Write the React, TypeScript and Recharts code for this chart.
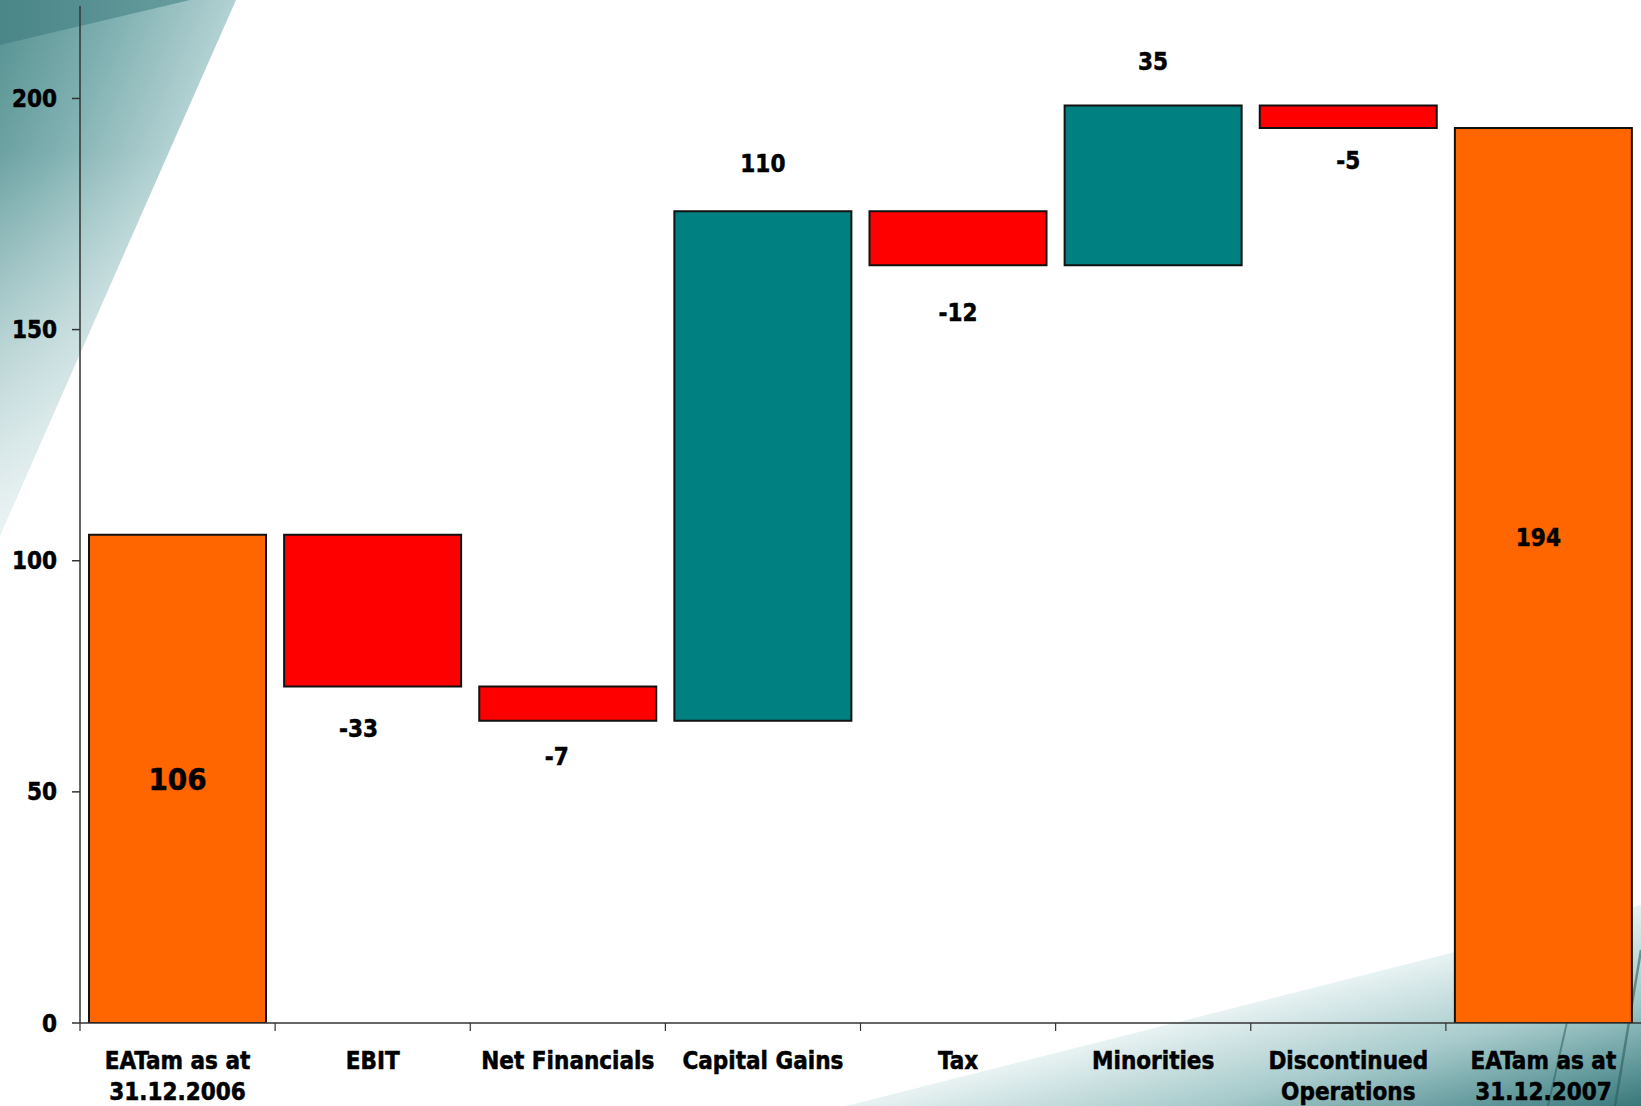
import React from 'react';
import { BarChart, Bar, XAxis, YAxis, Cell, LabelList } from 'recharts';

// ---------- data ----------
const categories = [
  'EATam as at\n31.12.2006',
  'EBIT',
  'Net Financials',
  'Capital Gains',
  'Tax',
  'Minorities',
  'Discontinued\nOperations',
  'EATam as at\n31.12.2007',
];
const changes = [105.6, -32.8, -7.4, 110.2, -11.7, 34.6, -4.9, 193.6];
const barTypes = ['total', 'delta', 'delta', 'delta', 'delta', 'delta', 'delta', 'total'];
const yTicks = [0, 50, 100, 150, 200];

// ---------- styles ----------
const FONT = "'DejaVu Sans Condensed', 'DejaVu Sans', sans-serif";
const COLORS = { total: '#FF6600', up: '#008080', down: '#FF0000' };
const labelLayout = [
  { mode: 'inside', frac: 0.5, size: 31, dx: 0 },
  { mode: 'below', off: 42, size: 24, dx: -14 },
  { mode: 'below', off: 36, size: 24, dx: -11 },
  { mode: 'above', off: 48, size: 24, dx: 0 },
  { mode: 'below', off: 47, size: 24, dx: 0 },
  { mode: 'above', off: 44, size: 24, dx: 0 },
  { mode: 'below', off: 32, size: 24, dx: 0 },
  { mode: 'inside', frac: 0.457, size: 24, dx: -5 },
];

const data = (() => {
  let running = 0;
  return categories.map((name, i) => {
    const v = changes[i];
    let base = 0;
    let amount = 0;
    let color = COLORS.total;
    if (barTypes[i] === 'total') {
      base = 0;
      amount = v;
      running = v;
    } else if (v >= 0) {
      base = running;
      amount = v;
      running += v;
      color = COLORS.up;
    } else {
      running += v;
      base = running;
      amount = -v;
      color = COLORS.down;
    }
    return { name, base, amount, color, label: String(Math.round(v)) };
  });
})();

const renderLabel = (props: any) => {
  const vb = props.viewBox || props;
  const x = Number(vb.x ?? props.x);
  const y = Number(vb.y ?? props.y);
  const w = Number(vb.width ?? props.width);
  const h = Number(vb.height ?? props.height);
  const i = props.index as number;
  const lay: any = labelLayout[i];
  const top = Math.min(y, y + h);
  const bottom = Math.max(y, y + h);
  let cy = top + (bottom - top) / 2;
  if (lay.mode === 'inside') cy = top + (bottom - top) * lay.frac;
  if (lay.mode === 'below') cy = bottom + lay.off;
  if (lay.mode === 'above') cy = top - lay.off;
  return (
    <text
      x={x + w / 2 + lay.dx}
      y={cy + lay.size * 0.36}
      textAnchor="middle"
      fontFamily={FONT}
      fontWeight="bold"
      fontSize={lay.size}
      fill="#000"
      stroke="#000"
      strokeWidth={0.5}
    >
      {data[i].label}
    </text>
  );
};

const CategoryTick = (props: any) => {
  const { x, y, payload } = props;
  const half =
    payload && payload.offset > 0
      ? payload.offset
      : props.width && props.visibleTicksCount
      ? props.width / props.visibleTicksCount / 2
      : 97.6;
  const lines = String(payload.value).split('\n');
  return (
    <g>
      <line x1={x - half} x2={x - half} y1={y} y2={y + 8} stroke="#333" strokeWidth={1.2} />
      <text
        textAnchor="middle"
        fontFamily={FONT}
        fontWeight="bold"
        fontSize={24}
        fill="#000"
        stroke="#000"
        strokeWidth={0.5}
      >
        {lines.map((l, k) => (
          <tspan key={k} x={x} y={y + 46 + k * 31}>
            {l}
          </tspan>
        ))}
      </text>
    </g>
  );
};

const Background = () => (
  <svg width={1641} height={1106} style={{ position: 'absolute', left: 0, top: 0 }}>
    <defs>
      <linearGradient id="tl" gradientUnits="userSpaceOnUse" x1={0} y1={0} x2={198} y2={87}>
        <stop offset="0" stopColor="#54908f" />
        <stop offset="0.5" stopColor="#7eafb0" />
        <stop offset="1" stopColor="#b2d1d2" />
      </linearGradient>
      <linearGradient id="tlfade" gradientUnits="userSpaceOnUse" x1={0} y1={150} x2={0} y2={535}>
        <stop offset="0" stopColor="#ffffff" stopOpacity={0} />
        <stop offset="1" stopColor="#ffffff" stopOpacity={0.75} />
      </linearGradient>
      <linearGradient id="tlband" gradientUnits="userSpaceOnUse" x1={0} y1={0} x2={190} y2={0}>
        <stop offset="0" stopColor="#4a8587" />
        <stop offset="1" stopColor="#679d9f" />
      </linearGradient>
      <linearGradient id="br" gradientUnits="userSpaceOnUse" x1={1593} y1={917} x2={1641} y2={1106}>
        <stop offset="0" stopColor="#e8f2f2" />
        <stop offset="0.45" stopColor="#a6cacb" />
        <stop offset="0.8" stopColor="#5f9799" />
        <stop offset="1" stopColor="#3a7779" />
      </linearGradient>
    </defs>
    <rect x={0} y={0} width={1641} height={1106} fill="#ffffff" />
    <polygon points="0,0 236,0 0,535" fill="url(#tl)" />
    <polygon points="0,0 236,0 0,535" fill="url(#tlfade)" />
    <polygon points="0,0 190,0 0,45" fill="url(#tlband)" />
    <polygon points="846,1106 1641,905 1641,1106" fill="url(#br)" />
    <line x1={1572} y1={1000} x2={1548} y2={1106} stroke="#2c5f61" strokeWidth={2} opacity={0.55} />
    <line x1={1641} y1={950} x2={1615} y2={1106} stroke="#2c5f61" strokeWidth={2.5} opacity={0.6} />
  </svg>
);

export default function App() {
  return (
    <div style={{ position: 'absolute', left: 0, top: 0, width: 1641, height: 1106, background: '#fff' }}>
      <Background />
      <div style={{ position: 'absolute', left: 0, top: 0 }}>
        <BarChart
          width={1641}
          height={1106}
          data={data}
          margin={{ top: 6, right: 0, left: 0, bottom: 0 }}
          barCategoryGap={9}
        >
          <XAxis
            dataKey="name"
            interval={0}
            tickLine={false}
            tickSize={0}
            tickMargin={0}
            height={83}
            axisLine={{ stroke: '#333', strokeWidth: 1.5 }}
            tick={<CategoryTick />}
          />
          <YAxis
            type="number"
            domain={[0, 220]}
            ticks={yTicks}
            width={80}
            tickSize={8}
            tickMargin={15}
            allowDataOverflow
            axisLine={{ stroke: '#333', strokeWidth: 1.5 }}
            tickLine={{ stroke: '#333', strokeWidth: 1.5 }}
            tick={{ fill: '#000', fontSize: 24, fontWeight: 'bold', fontFamily: FONT, stroke: '#000', strokeWidth: 0.5 }}
          />
          <Bar dataKey="base" stackId="w" fill="transparent" stroke="none" isAnimationActive={false} />
          <Bar dataKey="amount" stackId="w" stroke="#111" strokeWidth={2} isAnimationActive={false}>
            {data.map((d, i) => (
              <Cell key={i} fill={d.color} />
            ))}
            <LabelList dataKey="label" content={renderLabel} />
          </Bar>
        </BarChart>
      </div>
    </div>
  );
}
